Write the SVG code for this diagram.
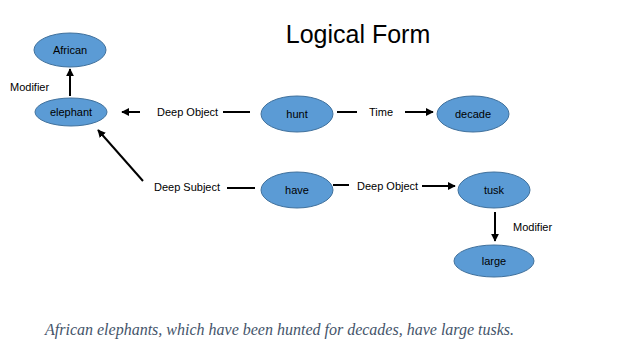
<svg xmlns="http://www.w3.org/2000/svg" width="640" height="360" viewBox="0 0 640 360">
<style>
.node ellipse{fill:#5B9BD5;stroke:#41719C;stroke-width:1}
.node text{font-family:"Liberation Sans",Arial,sans-serif;font-size:11px;fill:#000;text-anchor:middle}
.lbl{font-family:"Liberation Sans",Arial,sans-serif;font-size:11px;fill:#000}
.edge{stroke:#000;stroke-width:2;fill:none}
</style>
<defs>
<marker id="ah" viewBox="0 0 10 10" refX="9" refY="5" markerWidth="4" markerHeight="4" orient="auto" markerUnits="strokeWidth">
<path d="M0,0 L10,5 L0,10 z" fill="#000"/>
</marker>
</defs>
<rect width="640" height="360" fill="#fff"/>
<text x="358" y="43" font-family="Liberation Sans,Arial,sans-serif" font-size="25" fill="#000" text-anchor="middle">Logical Form</text>
<g id="connectors">
<line class="edge" x1="70" y1="96" x2="70" y2="69" marker-end="url(#ah)"/>
<line class="edge" x1="140" y1="112" x2="122" y2="112" marker-end="url(#ah)"/>
<line class="edge" x1="223" y1="112" x2="250" y2="112"/>
<line class="edge" x1="337" y1="112" x2="357" y2="112"/>
<line class="edge" x1="405" y1="112" x2="433" y2="112" marker-end="url(#ah)"/>
<line class="edge" x1="143" y1="181" x2="98" y2="130" marker-end="url(#ah)"/>
<line class="edge" x1="227" y1="188" x2="255" y2="188"/>
<line class="edge" x1="333" y1="185" x2="349" y2="185"/>
<line class="edge" x1="422" y1="186" x2="455" y2="186" marker-end="url(#ah)"/>
<line class="edge" x1="495" y1="212" x2="495" y2="241" marker-end="url(#ah)"/>
<text class="lbl" x="10" y="91">Modifier</text>
<text class="lbl" x="157" y="116">Deep Object</text>
<text class="lbl" x="369" y="116">Time</text>
<text class="lbl" x="154" y="191">Deep Subject</text>
<text class="lbl" x="357" y="190">Deep Object</text>
<text class="lbl" x="513" y="231">Modifier</text>
</g>
<g id="african" class="node"><ellipse cx="70" cy="50" rx="36" ry="17"/><text x="70" y="54">African</text></g>
<g id="elephant" class="node"><ellipse cx="71" cy="112" rx="36" ry="14"/><text x="71" y="116">elephant</text></g>
<g id="hunt" class="node"><ellipse cx="297" cy="114" rx="36" ry="18"/><text x="297" y="118">hunt</text></g>
<g id="decade" class="node"><ellipse cx="473" cy="114" rx="36" ry="18"/><text x="473" y="118">decade</text></g>
<g id="have" class="node"><ellipse cx="297" cy="190" rx="36" ry="18"/><text x="297" y="194">have</text></g>
<g id="tusk" class="node"><ellipse cx="494" cy="190" rx="36" ry="18"/><text x="494" y="194">tusk</text></g>
<g id="large" class="node"><ellipse cx="494" cy="261" rx="40" ry="16"/><text x="494" y="265">large</text></g>
<text x="45" y="335" font-family="Liberation Serif,Times New Roman,serif" font-style="italic" font-size="16" fill="#44546A">African elephants, which have been hunted for decades, have large tusks.</text>
</svg>
